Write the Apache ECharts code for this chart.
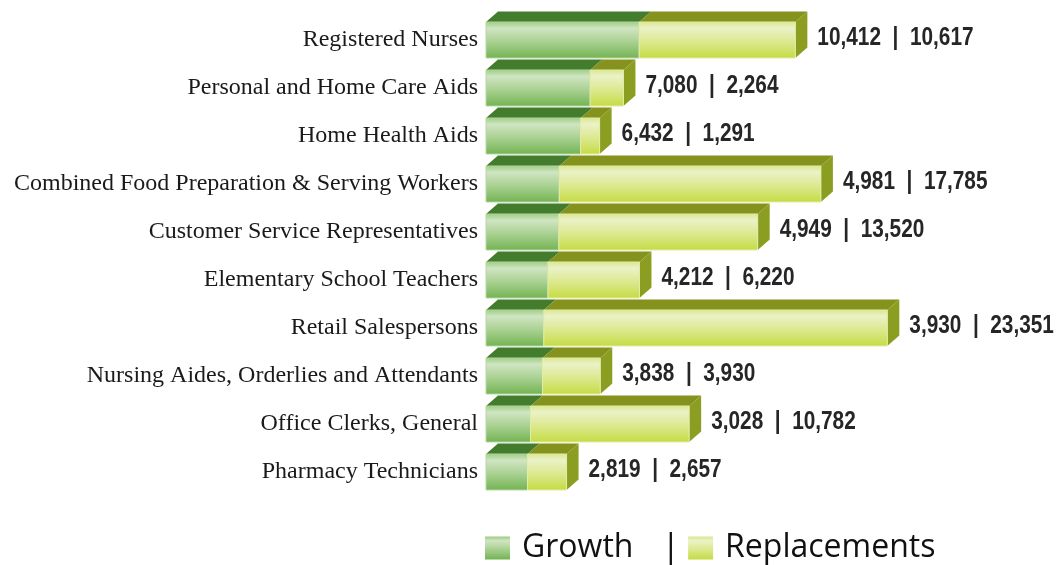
<!DOCTYPE html>
<html>
<head>
<meta charset="utf-8">
<script src="https://cdn.jsdelivr.net/npm/echarts@6/dist/echarts.min.js"></script>
<style>
	html, body { margin: 0; padding: 0; background: #fff; }
	#chart { width: 1056px; height: 565px; }
</style>
</head>
<body>
<div id="chart"></div>
<script>
var categories = [
	'Registered Nurses',
	'Personal and Home Care Aids',
	'Home Health Aids',
	'Combined Food Preparation & Serving Workers',
	'Customer Service Representatives',
	'Elementary School Teachers',
	'Retail Salespersons',
	'Nursing Aides, Orderlies and Attendants',
	'Office Clerks, General',
	'Pharmacy Technicians'
];
var growth = [10412, 7080, 6432, 4981, 4949, 4212, 3930, 3838, 3028, 2819];
var replacements = [10617, 2264, 1291, 17785, 13520, 6220, 23351, 3930, 10782, 2657];

var DX = 12, DY = 10.5;

function fmt(n) {
	return String(n).replace(/\B(?=(\d{3})+(?!\d))/g, ',');
}

function vGrad(stops) {
	return new echarts.graphic.LinearGradient(0, 0, 0, 1, stops);
}

var growthFront = [
	{offset: 0, color: '#9acb80'},
	{offset: 0.18, color: '#d0e5c3'},
	{offset: 0.55, color: '#a9d191'},
	{offset: 1, color: '#72b353'}
];
var replFront = [
	{offset: 0, color: '#d8e78c'},
	{offset: 0.18, color: '#ebf2c8'},
	{offset: 0.55, color: '#dce98f'},
	{offset: 1, color: '#c5db42'}
];

var rows = categories.map(function(c, i) {
	return [i, growth[i], replacements[i]];
});

// front face + top face (+ right face for the last segment)
function faces(x0, x1, y, h, front, frontStroke, top, withSide, side) {
	var kids = [];
	kids.push({
		type: 'polygon',
		shape: {points: [[x0, y], [x1, y], [x1 + DX, y - DY], [x0 + DX, y - DY]]},
		style: {fill: top}
	});
	if (withSide) {
		kids.push({
			type: 'polygon',
			shape: {points: [[x1, y], [x1 + DX, y - DY], [x1 + DX, y + h - DY], [x1, y + h]]},
			style: {fill: side}
		});
	}
	kids.push({
		type: 'rect',
		shape: {x: x0, y: y, width: x1 - x0, height: h},
		style: {fill: vGrad(front), stroke: frontStroke, lineWidth: 1}
	});
	return kids;
}

var chart = echarts.init(document.getElementById('chart'));
var option = {
	animation: false,
	grid: {left: 486, right: 11, top: 16, bottom: 69},
	xAxis: {
		type: 'value',
		min: 0,
		max: 38000,
		show: false
	},
	yAxis: {
		type: 'category',
		data: categories,
		inverse: true,
		axisLine: {show: false},
		axisTick: {show: false},
		splitLine: {show: false},
		axisLabel: {
			margin: 8,
			fontFamily: '"Liberation Serif", serif',
			fontSize: 24,
			color: '#1a1a1a'
		}
	},
	legend: {
		left: 485,
		top: 531,
		padding: 0,
		icon: 'rect',
		itemWidth: 25,
		itemHeight: 23,
		itemGap: 8,
		formatter: function(name) {
			return name == 'Growth' ? '{t|' + name + '}{s||}' : '{t|' + name + '}';
		},
		textStyle: {
			fontFamily: '"Open Sans", sans-serif',
			fontSize: 32,
			color: '#111',
			rich: {
				t: {fontFamily: '"Open Sans", sans-serif', fontSize: 32, color: '#111', padding: [0, 0, 0, 7]},
				s: {fontFamily: '"Open Sans", sans-serif', fontSize: 34, color: '#111', padding: [0, 0, 0, 28]}
			}
		},
		data: [
			{name: 'Growth', itemStyle: {color: vGrad(growthFront)}},
			{name: 'Replacements', itemStyle: {color: vGrad(replFront)}}
		]
	},
	series: [{
		name: 'Growth',
		type: 'custom',
		itemStyle: {color: vGrad(growthFront)},
		encode: {x: 1, y: 0},
		data: rows,
		renderItem: function(params, api) {
			var idx = api.value(0);
			var p0 = api.coord([0, idx]);
			var p1 = api.coord([api.value(1), idx]);
			var h = api.size([0, 1])[1] * 0.75;
			return {
				type: 'group',
				children: faces(p0[0], p1[0], p0[1] - h / 2, h, growthFront, '#b5d8a2', '#427c2c', false)
			};
		}
	}, {
		name: 'Replacements',
		type: 'custom',
		itemStyle: {color: vGrad(replFront)},
		encode: {x: 2, y: 0},
		data: rows,
		renderItem: function(params, api) {
			var idx = api.value(0);
			var g = api.value(1);
			var r = api.value(2);
			var p1 = api.coord([g, idx]);
			var p2 = api.coord([g + r, idx]);
			var h = api.size([0, 1])[1] * 0.75;
			var kids = faces(p1[0], p2[0], p1[1] - h / 2, h, replFront, '#e2eda8', '#85921d', true, '#8c9e22');
			kids.push({
				type: 'text',
				x: p2[0] + 22,
				y: p1[1] - 2,
				scaleX: 0.8,
				style: {
					x: 0,
					y: 0,
					text: fmt(g) + '  |  ' + fmt(r),
					verticalAlign: 'middle',
					fontFamily: '"Liberation Sans", sans-serif',
					fontWeight: 'bold',
					fontSize: 26,
					fill: '#262626'
				}
			});
			return {type: 'group', children: kids};
		}
	}]
};
chart.setOption(option);
</script>
</body>
</html>
